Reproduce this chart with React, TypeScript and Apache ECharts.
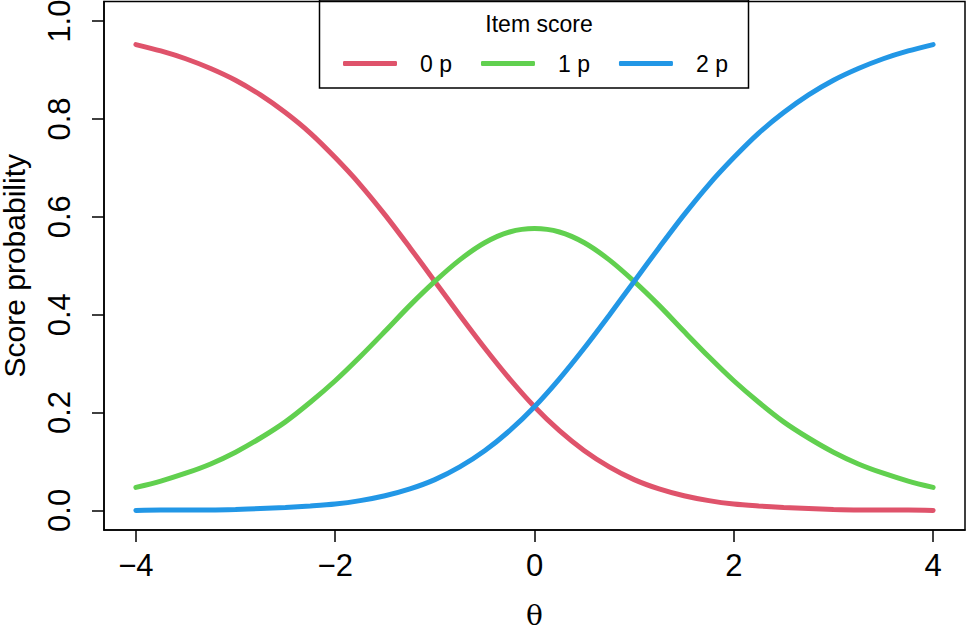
import * as echarts from 'echarts';
import { useEffect, useRef } from 'react';

const theta = [
  -4, -3.75, -3.5, -3.25, -3, -2.75, -2.5, -2.25, -2, -1.75, -1.5, -1.25, -1, -0.75, -0.5, -0.25, 0,
  0.25, 0.5, 0.75, 1, 1.25, 1.5, 1.75, 2, 2.25, 2.5, 2.75, 3, 3.25, 3.5, 3.75, 4,
];

const score0 = [
  0.952, 0.939, 0.923, 0.903, 0.879, 0.849, 0.813, 0.771, 0.721, 0.666, 0.604, 0.537, 0.468, 0.399,
  0.332, 0.269, 0.212, 0.163, 0.122, 0.089, 0.063, 0.044, 0.030, 0.020, 0.013, 0.009, 0.006, 0.004,
  0.002, 0.001, 0.001, 0.001, 0.0,
];

const score1 = [
  0.047, 0.060, 0.076, 0.095, 0.119, 0.148, 0.181, 0.221, 0.265, 0.314, 0.366, 0.419, 0.468, 0.512,
  0.547, 0.569, 0.576, 0.569, 0.547, 0.512, 0.468, 0.419, 0.366, 0.314, 0.265, 0.221, 0.181, 0.148,
  0.119, 0.095, 0.076, 0.060, 0.047,
];

const score2 = [
  0.0, 0.001, 0.001, 0.001, 0.002, 0.004, 0.006, 0.009, 0.013, 0.020, 0.030, 0.044, 0.063, 0.089,
  0.122, 0.163, 0.212, 0.269, 0.332, 0.399, 0.468, 0.537, 0.604, 0.666, 0.721, 0.771, 0.813, 0.849,
  0.879, 0.903, 0.923, 0.939, 0.952,
];

const seriesNames = ['0 p', '1 p', '2 p'];
const seriesColors = ['#DF536B', '#61D04F', '#2297E6'];
const xTicks = [-4, -2, 0, 2, 4];
const yTicks = [0, 0.2, 0.4, 0.6, 0.8, 1.0];

const font = '"Liberation Sans", Arial, Helvetica, sans-serif';

function App() {
  const chartRef = useRef(null);

  useEffect(() => {
    document.body.style.margin = '0';
    const myChart = echarts.init(chartRef.current, null, { renderer: 'svg' });

    const toPairs = (ys: number[]) => theta.map((t, i) => [t, ys[i]]);
    const allScores = [score0, score1, score2];

    const option = {
      animation: false,
      backgroundColor: '#ffffff',
      grid: {
        left: 104,
        right: 1,
        top: 1.5,
        bottom: 97,
        show: true,
        borderColor: '#000',
        borderWidth: 1.5,
        containLabel: false,
        outerBoundsMode: 'none',
      },
      xAxis: {
        type: 'value',
        min: -4.32,
        max: 4.32,
        name: 'θ',
        nameLocation: 'middle',
        nameGap: 74,
        nameTextStyle: {
          fontFamily: '"DejaVu Serif", "Liberation Serif", serif',
          fontSize: 28,
          lineHeight: 22,
          color: '#000',
        },
        splitLine: { show: false },
        axisLine: { show: true, onZero: false, lineStyle: { color: '#000', width: 1.5 } },
        axisTick: {
          show: true,
          length: 12,
          customValues: xTicks,
          lineStyle: { color: '#000', width: 1.5 },
        },
        axisLabel: {
          customValues: xTicks,
          margin: 20,
          fontSize: 31,
          fontFamily: font,
          color: '#000',
          formatter: (v: number) => (v < 0 ? '\u2212' + Math.abs(v) : String(v)),
        },
      },
      yAxis: {
        type: 'value',
        min: -0.04,
        max: 1.04,
        name: 'Score probability',
        nameLocation: 'middle',
        nameGap: 78,
        nameTextStyle: { fontFamily: font, fontSize: 30, lineHeight: 24, color: '#000' },
        splitLine: { show: false },
        axisLine: { show: true, onZero: false, lineStyle: { color: '#000', width: 1.5 } },
        axisTick: {
          show: true,
          length: 12,
          customValues: yTicks,
          lineStyle: { color: '#000', width: 1.5 },
        },
        axisLabel: {
          customValues: yTicks,
          rotate: 90,
          margin: 29,
          fontSize: 31,
          fontFamily: font,
          color: '#000',
          formatter: (v: number) => v.toFixed(1),
        },
      },
      title: {
        text: 'Item score',
        left: 534,
        top: 7,
        textAlign: 'center',
        textStyle: { fontFamily: font, fontSize: 23, fontWeight: 'normal', color: '#000' },
      },
      legend: {
        data: seriesNames,
        left: 338,
        top: 47,
        itemWidth: 54,
        itemHeight: 5,
        itemGap: 29,
        icon: 'roundRect',
        textStyle: { fontFamily: font, fontSize: 23, color: '#000', padding: [0, 0, 0, 18] },
      },
      graphic: [
        {
          type: 'rect',
          shape: { x: 319.5, y: 0, width: 429, height: 88 },
          style: { fill: 'none', stroke: '#000', lineWidth: 1.5 },
          z: 100,
        },
      ],
      series: allScores.map((ys, i) => ({
        name: seriesNames[i],
        type: 'line',
        data: toPairs(ys),
        smooth: 0.3,
        showSymbol: false,
        symbol: 'none',
        color: seriesColors[i],
        lineStyle: { width: 5, color: seriesColors[i], cap: 'round' },
      })),
    };

    myChart.setOption(option);

    return () => {
      myChart.dispose();
    };
  }, []);

  return <div ref={chartRef} style={{ width: '966px', height: '627px' }}></div>;
}

export default App;
